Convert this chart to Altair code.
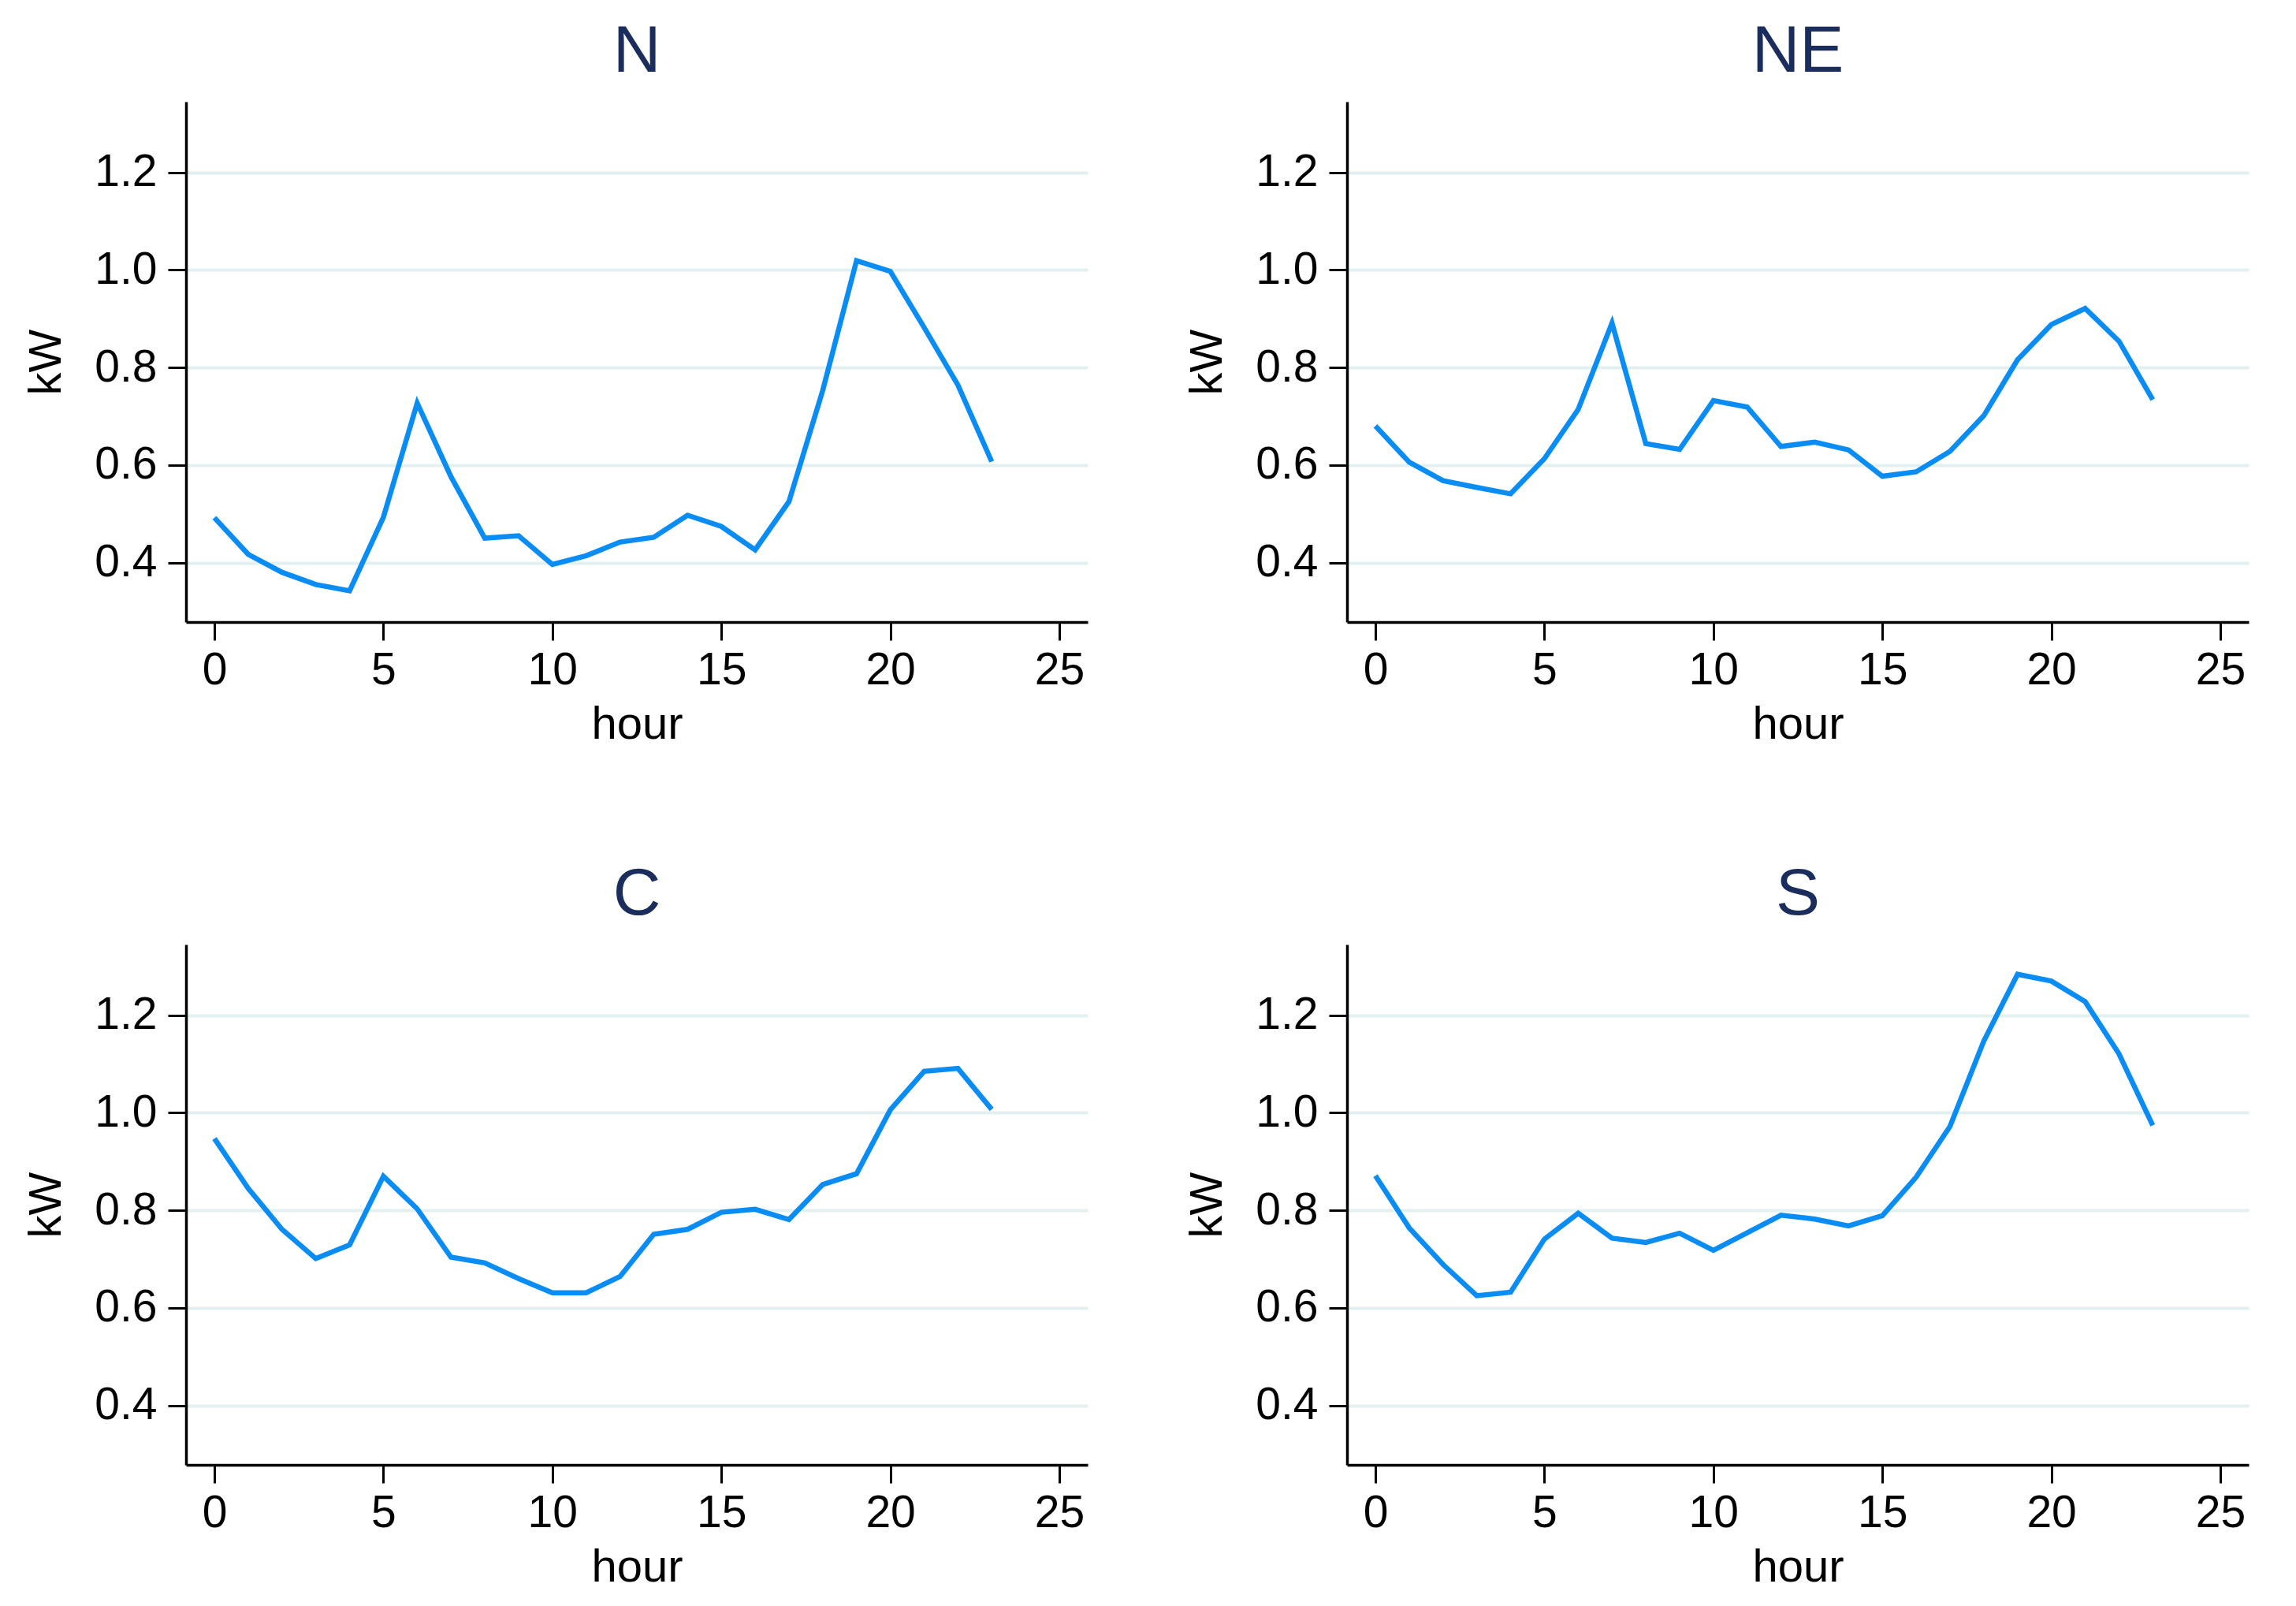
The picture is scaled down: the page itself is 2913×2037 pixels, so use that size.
import altair as alt
import pandas as pd

hours = list(range(24))

N_kw = [0.492, 0.417, 0.380, 0.355, 0.342, 0.493, 0.727, 0.576, 0.450, 0.455,
        0.396, 0.414, 0.442, 0.452, 0.497, 0.474, 0.426, 0.525, 0.753, 1.019,
        0.997, 0.882, 0.764, 0.607]
NE_kw = [0.680, 0.606, 0.568, 0.554, 0.541, 0.613, 0.714, 0.891, 0.644, 0.632,
         0.732, 0.719, 0.638, 0.647, 0.631, 0.577, 0.586, 0.628, 0.701, 0.816,
         0.888, 0.921, 0.854, 0.734]
C_kw = [0.947, 0.845, 0.761, 0.701, 0.729, 0.870, 0.803, 0.704, 0.692, 0.660,
        0.631, 0.631, 0.664, 0.751, 0.761, 0.796, 0.802, 0.781, 0.853, 0.875,
        1.006, 1.085, 1.091, 1.007]
S_kw = [0.871, 0.764, 0.689, 0.625, 0.632, 0.741, 0.794, 0.743, 0.734, 0.753,
        0.718, 0.754, 0.790, 0.782, 0.768, 0.789, 0.868, 0.972, 1.147, 1.284,
        1.270, 1.228, 1.121, 0.974]

x_ticks = [0, 5, 10, 15, 20, 25]
y_ticks = [0.4, 0.6, 0.8, 1.0, 1.2]

FONT = "Liberation Sans"
LINE = "#0a8cf5"
PW, PH = 1144, 660


def panel(name, values):
    df = pd.DataFrame({"hour": hours, "kW": values})
    return (
        alt.Chart(df, title=alt.TitleParams(name, fontSize=84, font=FONT,
                                            fontWeight="normal", color="#1a2d5c",
                                            offset=20))
        .mark_line(color=LINE, strokeWidth=6.5)
        .encode(
            x=alt.X("hour:Q",
                    scale=alt.Scale(domain=[-0.84, 25.84], nice=False, zero=False),
                    axis=alt.Axis(values=x_ticks, title="hour", grid=False,
                                  format="d")),
            y=alt.Y("kW:Q",
                    scale=alt.Scale(domain=[0.278, 1.345], nice=False, zero=False),
                    axis=alt.Axis(values=y_ticks, title="kW", grid=True,
                                  format=".1f")),
        )
        .properties(width=PW, height=PH)
    )


row1 = alt.hconcat(panel("N", N_kw), panel("NE", NE_kw), spacing=123)
row2 = alt.hconcat(panel("C", C_kw), panel("S", S_kw), spacing=123)

chart = (
    alt.vconcat(row1, row2, spacing=145)
    .properties(padding={"left": 22, "top": 16, "right": 5, "bottom": 5})
    .configure_view(strokeWidth=0)
    .configure_axis(
        labelFont=FONT, titleFont=FONT, labelFontSize=57, titleFontSize=58,
        labelColor="black", titleColor="black", titleFontWeight="normal",
        domainColor="black", domainWidth=3.5, tickColor="black", tickWidth=3,
        tickSize=23, gridColor="#e3f0f0", gridWidth=4,
    )
    .configure_axisY(labelPadding=14, titlePadding=31)
    .configure_axisX(labelPadding=10, titlePadding=12)
)

chart.save("out.html", embed_options={"renderer": "svg", "actions": False})
